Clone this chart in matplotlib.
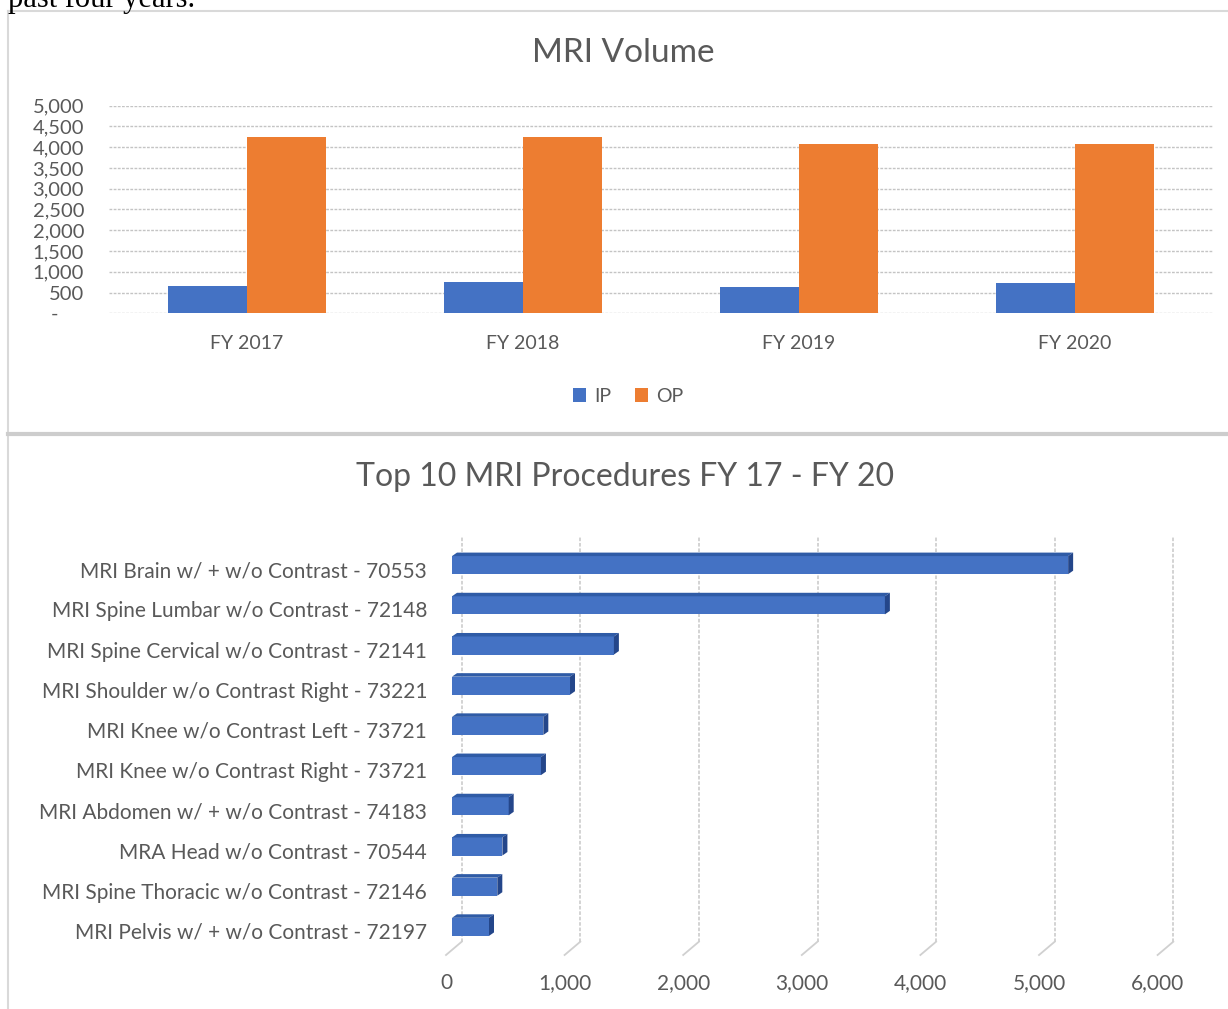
import numpy as np
import matplotlib.pyplot as plt
from matplotlib.lines import Line2D
from matplotlib.patches import Polygon
import matplotlib.transforms as mtransforms

# Datos del grafico superior (MRI Volume)
years = ["FY 2017", "FY 2018", "FY 2019", "FY 2020"]
ip_vals = [665, 760, 625, 725]
op_vals = [4240, 4240, 4070, 4070]

# Datos del grafico inferior (Top 10)
procedures = [
    "MRI Brain w/ + w/o Contrast - 70553",
    "MRI Spine Lumbar w/o Contrast - 72148",
    "MRI Spine Cervical w/o Contrast - 72141",
    "MRI Shoulder w/o Contrast Right - 73221",
    "MRI Knee w/o Contrast Left - 73721",
    "MRI Knee w/o Contrast Right - 73721",
    "MRI Abdomen w/ + w/o Contrast - 74183",
    "MRA Head w/o Contrast - 70544",
    "MRI Spine Thoracic w/o Contrast - 72146",
    "MRI Pelvis w/ + w/o Contrast - 72197",
]
counts = [5195, 3650, 1365, 995, 770, 750, 478, 425, 382, 312]

W, H = 1228, 1009
dpi = 100
plt.rcParams['font.family'] = ['Lato', 'DejaVu Sans']
gris = '#595959'
azul = '#4472C4'
naranja = '#ED7D31'

fig = plt.figure(figsize=(W / dpi, H / dpi), dpi=dpi)

def caja(x0, y0, x1, y1):
    # pixeles (origen arriba-izquierda) -> fraccion de figura
    return [x0 / W, 1 - y1 / H, (x1 - x0) / W, (y1 - y0) / H]

# texto cortado de arriba (viene del documento original)
fig.text(8 / W, 1 - 7.5 / H, "past four years.", family='Liberation Serif',
         fontsize=22, color='black', ha='left', va='baseline')

# bordes de los paneles
fig.add_artist(Line2D([8 / W, 8 / W], [0, 1 - 11 / H], color='#D9D9D9', lw=1.5))
fig.add_artist(Line2D([8 / W, 1], [1 - 11 / H, 1 - 11 / H], color='#D9D9D9', lw=1.5))
fig.add_artist(Line2D([8 / W, 1], [1 - 433.5 / H, 1 - 433.5 / H], color='#CDCDCD', lw=3))

###########################################################################################################
# Grafico 1: MRI Volume
ax1 = fig.add_axes(caja(109, 105.7, 1213, 313.3))
x = np.arange(len(years))
bw = 0.285
ax1.bar(x - bw / 2, ip_vals, bw, color=azul, label='IP', zorder=3)
ax1.bar(x + bw / 2, op_vals, bw, color=naranja, label='OP', zorder=3)
ax1.set_xlim(-0.5, 3.5)
ax1.set_ylim(0, 5000)
yt = np.arange(0, 5001, 500)
ax1.set_yticks(yt)
ax1.set_yticklabels(['-     ' if v == 0 else f'{v:,}' for v in yt])
ax1.set_xticks(x)
ax1.set_xticklabels(years)
ax1.tick_params(axis='y', length=0, pad=18, labelsize=14.5, labelcolor=gris)
ax1.tick_params(axis='x', length=0, pad=15.5, labelsize=14, labelcolor=gris)
for s in ax1.spines.values():
    s.set_visible(False)
ax1.grid(axis='y', color='#C4C4C4', lw=1, linestyle=(0, (2, 1)), zorder=0)
ax1.set_axisbelow(True)
fig.text(623 / W, 1 - 53 / H, "MRI Volume", ha='center', va='center', fontsize=24, color=gris)
fig.legend(loc='center', bbox_to_anchor=(628 / W, 1 - 396 / H), ncol=2, frameon=False,
           handlelength=0.7, handleheight=0.7, handletextpad=0.4, columnspacing=1.2,
           fontsize=14, labelcolor=gris)

###########################################################################################################
# Grafico 2: Top 10 (barras con efecto 3D)
px_x = 0.1186          # pixeles por unidad en x
left, right = 452, 452 + 6000 * px_x
ax2 = fig.add_axes(caja(left, 537, right, 955))
ax2.set_xlim(0, 6000)
ax2.set_ylim(-0.7, 9.7)
px_y = 418 / 10.4
pos = np.arange(len(procedures))[::-1]

# lineas de grilla en la pared del fondo
xt = np.arange(0, 6001, 1000)
fondo = mtransforms.offset_copy(ax2.get_xaxis_transform(), fig=fig, x=9.7, y=0, units='dots')
piso_y = 13.3 / 418
for v in xt:
    ax2.plot([v, v], [piso_y, 1], transform=fondo, color='#D0D0D0', lw=1.3,
             linestyle=(0, (2, 1)), zorder=0, clip_on=False)
    ax2.plot([v + 9.7 / px_x, v - 6 / px_x], [piso_y, 0], transform=ax2.get_xaxis_transform(),
             color='#D0D0D0', lw=1.3, zorder=0, clip_on=False)

bh = 0.45
ax2.barh(pos, counts, height=bh, color=azul, zorder=3)
dx = 5 / px_x
dy = 3.5 / px_y
for p, v in zip(pos, counts):
    top = p + bh / 2
    bot = p - bh / 2
    ax2.add_patch(Polygon([(0, top), (v, top), (v + dx, top + dy), (dx, top + dy)],
                          closed=True, color='#2F5BA6', zorder=3, lw=0))
    ax2.add_patch(Polygon([(v, bot), (v, top), (v + dx, top + dy), (v + dx, bot + dy)],
                          closed=True, color='#24468A', zorder=3, lw=0))

ax2.set_xticks(xt)
ax2.set_xticklabels([f'{v:,}' for v in xt])
ax2.set_yticks(pos)
ax2.set_yticklabels(procedures)
ax2.tick_params(axis='x', length=0, pad=13, labelsize=15, labelcolor=gris)
ax2.tick_params(axis='y', length=0, pad=18, labelsize=15, labelcolor=gris)
for lbl in ax2.get_xticklabels():
    lbl.set_transform(lbl.get_transform() + mtransforms.ScaledTranslation(-6 / dpi, 0, fig.dpi_scale_trans))
for lbl in ax2.get_yticklabels():
    lbl.set_transform(lbl.get_transform() + mtransforms.ScaledTranslation(0, -4 / dpi, fig.dpi_scale_trans))
for s in ax2.spines.values():
    s.set_visible(False)
fig.text(625 / W, 1 - 477 / H, "Top 10 MRI Procedures FY 17 - FY 20", ha='center', va='center',
         fontsize=23, color=gris)

fig.savefig('out.png', dpi=dpi)
